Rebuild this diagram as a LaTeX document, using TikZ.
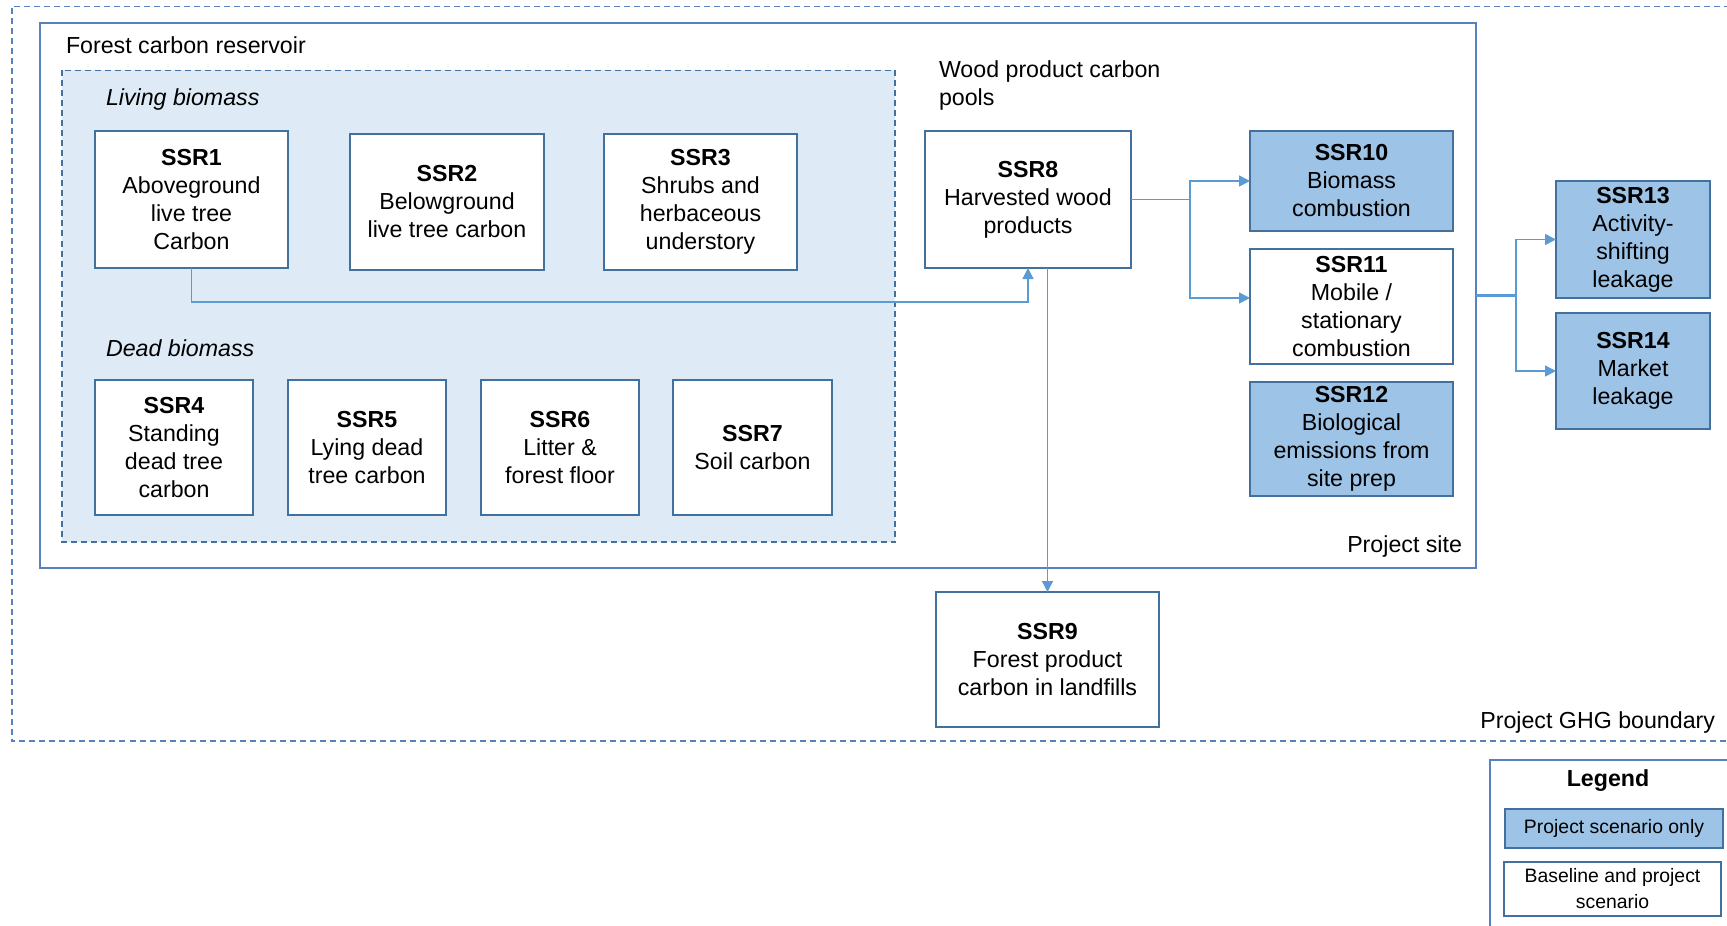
\documentclass[tikz,border=0pt]{standalone}
\usepackage{fontspec}
\setmainfont{Liberation Sans}
\usetikzlibrary{arrows.meta}
\definecolor{boxborder}{HTML}{41719C}
\definecolor{bluefill}{HTML}{9DC3E6}
\definecolor{conncol}{HTML}{5B9BD5}
\definecolor{palefill}{HTML}{DEEBF7}
\definecolor{framecol}{HTML}{5882BE}
\begin{document}
\begin{tikzpicture}[x=0.5pt,y=-0.5pt,
  every node/.style={inner sep=0pt,outer sep=0pt},
  txt/.style={font=\fontsize{11.6}{14}\selectfont},
  ssr/.style={draw=boxborder,line width=0.8pt,fill=white,align=center,txt},
  ssrb/.style={ssr,fill=bluefill},
  conn/.style={draw=conncol,line width=0.7pt},
  arr/.style={conn,-{Triangle[length=5.5pt,width=5.5pt]}},
  framedash/.style={draw=framecol,line width=0.7pt,dash pattern=on 3pt off 2pt},
  lbl/.style={txt,align=left}]
\useasboundingbox (0,0) rectangle (1727,925);
\fill[white] (0,0) rectangle (1727,925);

% outer GHG boundary
\draw[framedash] (1760,6.5) -- (12,6.5) -- (12,741) -- (1760,741);
% project site
\draw[draw=framecol,line width=0.8pt,fill=white] (40,23) rectangle (1476,568);
\node (site) at (758,295.5) {};
\coordinate (siteE) at (1476,295.5);
% forest carbon reservoir inner box
\draw[draw=boxborder,line width=0.7pt,dash pattern=on 3pt off 2pt,fill=palefill] (62,70.5) rectangle (895,542);

% labels
\node[lbl,anchor=west] (lforest) at (66,45) {Forest carbon reservoir};
\node[lbl,anchor=west] (lliving) at (106,100) {\itshape Living biomass};
\node[lbl,anchor=west] (ldead) at (106,348) {\itshape Dead biomass};
\node[lbl,anchor=west] (lwood) at (939,86) {Wood product carbon\\pools};
\node[lbl,anchor=east] (lsite) at (1462,546) {Project site};
\node[lbl,anchor=east] (lghg) at (1715,722) {Project GHG boundary};

% living biomass
\node[ssr,minimum width=96.5pt,minimum height=68.5pt] (ssr1) at (191.5,199.5) {\textbf{SSR1}\\Aboveground\\live tree\\Carbon};
\node[ssr,minimum width=97pt,minimum height=68pt] (ssr2) at (447,202) {\textbf{SSR2}\\Belowground\\live tree carbon};
\node[ssr,minimum width=96.5pt,minimum height=68pt] (ssr3) at (700.5,202) {\textbf{SSR3}\\Shrubs and\\herbaceous\\understory};
% dead biomass
\node[ssr,minimum width=79pt,minimum height=67.5pt] (ssr4) at (174,447.5) {\textbf{SSR4}\\Standing\\dead tree\\carbon};
\node[ssr,minimum width=79pt,minimum height=67.5pt] (ssr5) at (367,447.5) {\textbf{SSR5}\\Lying dead\\tree carbon};
\node[ssr,minimum width=79pt,minimum height=67.5pt] (ssr6) at (560,447.5) {\textbf{SSR6}\\Litter \&\\forest floor};
\node[ssr,minimum width=79.5pt,minimum height=67.5pt] (ssr7) at (752.5,447.5) {\textbf{SSR7}\\Soil carbon};
% wood products
\node[ssr,minimum width=103pt,minimum height=68.5pt] (ssr8) at (1028,199.5) {\textbf{SSR8}\\Harvested wood\\products};
\node[ssr,minimum width=111.5pt,minimum height=67.5pt] (ssr9) at (1047.5,659.5) {\textbf{SSR9}\\Forest product\\carbon in landfills};
% combustion
\node[ssrb,minimum width=101.5pt,minimum height=50pt] (ssr10) at (1351.5,181) {\textbf{SSR10}\\Biomass\\combustion};
\node[ssr,minimum width=101.5pt,minimum height=57.5pt] (ssr11) at (1351.5,306.5) {\textbf{SSR11}\\Mobile /\\stationary\\combustion};
\node[ssrb,minimum width=101.5pt,minimum height=57pt] (ssr12) at (1351.5,439) {\textbf{SSR12}\\Biological\\emissions from\\site prep};
% leakage
\node[ssrb,minimum width=77pt,minimum height=58.5pt] (ssr13) at (1633,239.5) {\textbf{SSR13}\\Activity-\\shifting\\leakage};
\node[ssrb,minimum width=77pt,minimum height=58pt] (ssr14) at (1633,371) {\textbf{SSR14}\\Market\\leakage};

% connectors
\coordinate (j1) at (191.5,302);
\draw[arr] (ssr1.south) -- (j1) -| (ssr8.south);
\draw[arr] (ssr9.north |- ssr8.south) -- (ssr9.north);
\coordinate (j2) at (1190,199.5);
\coordinate (t11) at (1250,298);
\draw[conn] (ssr8.east) -- (j2);
\draw[arr] (j2) |- (ssr10.west);
\draw[arr] (j2) |- (t11);
\coordinate (j3) at (1516,295.5);
\draw[conn,line width=1.2pt] (siteE) -- (j3);
\draw[arr] (j3) |- (ssr13.west);
\draw[arr] (j3) |- (ssr14.west);

% legend
\draw[draw=framecol,line width=0.8pt,fill=white] (1760,760) -- (1490,760) -- (1490,940);
\node[txt,font=\fontsize{11.6}{14}\selectfont\bfseries] (legt) at (1608,781) {Legend};
\node[ssrb,font=\fontsize{9.7}{13}\selectfont,minimum width=109pt,minimum height=19.5pt] (leg1) at (1614,828.5) {Project scenario only};
\node[ssr,font=\fontsize{9.7}{13}\selectfont,minimum width=108.5pt,minimum height=27pt] (leg2) at (1612.5,889) {Baseline and project\\scenario};
\end{tikzpicture}
\end{document}
